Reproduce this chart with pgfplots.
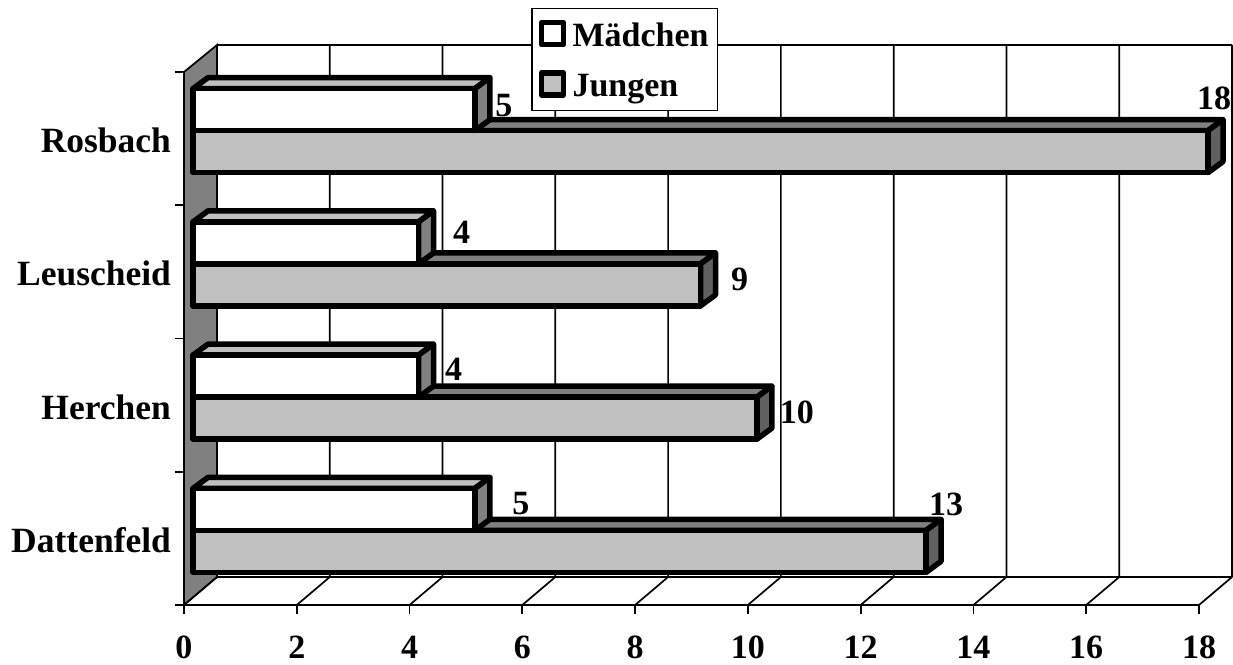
\documentclass[border=0pt]{standalone}
\usepackage{fontspec}
\setmainfont{Liberation Serif}
\usepackage{pgfplots}
\pgfplotsset{compat=1.18}
\definecolor{lgray}{HTML}{C0C0C0}
\definecolor{mgray}{HTML}{808080}
\definecolor{dgray}{HTML}{606060}
\newcommand{\lab}{\fontsize{34}{38}\selectfont\bfseries}
\newcommand{\ylab}{\fontsize{35.5}{40}\selectfont\bfseries}
% 1pt = 1 reference pixel
% #1 value, #2 category y, #3 bar shift, #4 front, #5 top, #6 side, #7 #8 label offset
\newcommand{\threedbar}[8]{%
  \draw[line width=5.5pt,line join=round,fill=#5]
    ([shift={(9pt,8pt+#3pt+21pt)}]axis cs:0,#2) -- ([shift={(9pt,8pt+#3pt+21pt)}]axis cs:#1,#2)
    -- ([shift={(24pt,19pt+#3pt+21pt)}]axis cs:#1,#2) -- ([shift={(24pt,19pt+#3pt+21pt)}]axis cs:0,#2) -- cycle;
  \draw[line width=5.5pt,line join=round,fill=#6]
    ([shift={(9pt,8pt+#3pt+21pt)}]axis cs:#1,#2) -- ([shift={(24pt,19pt+#3pt+21pt)}]axis cs:#1,#2)
    -- ([shift={(24pt,19pt+#3pt-21pt)}]axis cs:#1,#2) -- ([shift={(9pt,8pt+#3pt-21pt)}]axis cs:#1,#2) -- cycle;
  \addplot[xbar,bar width=42pt,bar shift=#3pt,xshift=9pt,yshift=8pt,
    draw=black,fill=#4,line width=5.5pt,line join=round,forget plot] coordinates {(#1,#2)};
  \node[font=\lab,inner sep=0pt] at ([shift={(#7pt,#8pt)}]axis cs:#1,#2) {#1};
}
\begin{document}
\begin{tikzpicture}
\begin{axis}[
  scale only axis,
  width=1015pt,height=533pt,
  xmin=0,xmax=18,ymin=0,ymax=4,
  clip=false,
  axis x line*=bottom,axis y line*=left,
  axis line style={line width=1.7pt,-},
  tick align=outside,
  major tick length=8.5pt,
  xtick={0,2,...,18},
  ytick={0.5,1.5,2.5,3.5},
  yticklabels={Dattenfeld,Herchen,Leuscheid,Rosbach},
  ytick style={draw=none},
  extra y ticks={0,1,2,3,4},
  extra y tick labels={},
  extra y tick style={ytick style={draw=black,line width=1.7pt}},
  xtick style={draw=black,line width=1.7pt},
  x tick label style={font=\lab,yshift=-19pt},
  y tick label style={font=\ylab,xshift=-1pt,yshift=-2pt},
  /pgf/number format/assume math mode=true,
  legend style={at={(0.3419,1.1201)},anchor=north west,draw=black,line width=1.5pt,
    font=\lab,row sep=20pt,inner xsep=7pt,inner ysep=11pt,cells={anchor=west}},
]
% left wall
\draw[line width=1.7pt,fill=mgray] (axis cs:0,0) -- ([shift={(33pt,28pt)}]axis cs:0,0)
  -- ([shift={(33pt,560pt)}]axis cs:0,0) -- (axis cs:0,4) -- cycle;
% floor and back wall
\pgfplotsinvokeforeach{0,2,...,18}{
  \draw[line width=1.7pt] (axis cs:#1,0) -- ([shift={(33pt,28pt)}]axis cs:#1,0)
    -- ([shift={(33pt,560pt)}]axis cs:#1,0);
}
\draw[line width=1.7pt] ([shift={(33pt,28pt)}]axis cs:0,0) -- ([shift={(33pt,28pt)}]axis cs:18,0);
\draw[line width=1.7pt] ([shift={(33pt,560pt)}]axis cs:0,0) -- ([shift={(33pt,560pt)}]axis cs:18,0);
\addlegendimage{legend image code/.code={\draw[line width=5.5pt,line join=round,fill=white] (0pt,-9pt) rectangle (22pt,13pt);\path[draw=none] (0pt,0pt) -- (29pt,0pt);}}
\addlegendimage{legend image code/.code={\draw[line width=5.5pt,line join=round,fill=lgray] (0pt,-9pt) rectangle (22pt,13pt);\path[draw=none] (0pt,0pt) -- (29pt,0pt);}}
\addlegendentry{Mädchen}
\addlegendentry{Jungen}
% Jungen
\threedbar{13}{0.5}{-21}{lgray}{mgray}{dgray}{29}{34}
\threedbar{10}{1.5}{-21}{lgray}{mgray}{dgray}{49}{-7}
\threedbar{9}{2.5}{-21}{lgray}{mgray}{dgray}{48}{-8}
\threedbar{18}{3.5}{-21}{lgray}{mgray}{dgray}{15}{40}
% Maedchen
\threedbar{5}{0.5}{21}{white}{lgray}{mgray}{55}{35}
\threedbar{4}{1.5}{21}{white}{lgray}{mgray}{44}{36}
\threedbar{4}{2.5}{21}{white}{lgray}{mgray}{52}{40}
\threedbar{5}{3.5}{21}{white}{lgray}{mgray}{38}{33}
\end{axis}
\pgfresetboundingbox
\path[use as bounding box] (-184pt,-59pt) rectangle (1049pt,605pt);
\end{tikzpicture}
\end{document}
